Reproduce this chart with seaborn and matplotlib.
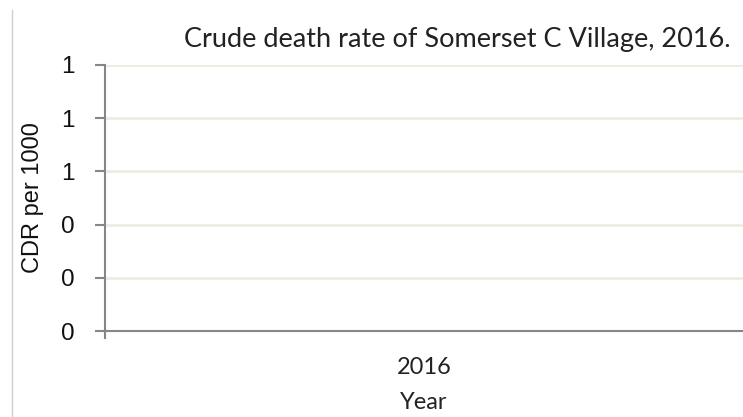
import matplotlib
matplotlib.use("Agg")
import matplotlib.pyplot as plt
from matplotlib.lines import Line2D
from matplotlib.ticker import FormatStrFormatter
import seaborn as sns

# chart data: a single year with a zero crude death rate
years = ["2016"]
cdr_per_1000 = [0.0]
y_ticks = [0.0, 0.2, 0.4, 0.6, 0.8, 1.0]

sns.set_style("white")
plt.rcParams["font.family"] = ["Lato", "DejaVu Sans"]

fig = plt.figure(figsize=(7.43, 4.17), dpi=100)
ax = fig.add_axes([105 / 743, 1 - 331 / 417, 1 - 105 / 743, (331 - 65) / 417])

sns.barplot(x=years, y=cdr_per_1000, color="#4F81BD", ax=ax)

ax.set_ylim(0, 1)
ax.set_yticks(y_ticks)
ax.yaxis.set_major_formatter(FormatStrFormatter("%.0f"))
ax.yaxis.grid(True, color="#EEECE1", linewidth=2)
ax.set_axisbelow(True)

for side in ["top", "right"]:
    ax.spines[side].set_visible(False)
for side in ["left", "bottom"]:
    ax.spines[side].set_color("#868686")
    ax.spines[side].set_linewidth(1.5)
ax.spines["left"].set_bounds(-0.025, 1)

ax.tick_params(axis="y", direction="out", length=7, width=1.5, color="#868686",
               pad=15, labelsize=17.5, labelcolor="#111111", left=True,
               labelfontfamily="Liberation Sans")
ax.tick_params(axis="x", length=0, pad=19, labelsize=17, labelcolor="#222222")

ax.set_ylabel("CDR per 1000", fontsize=17, family="Liberation Sans", color="#111111", labelpad=12)
ax.set_xlabel("Year", fontsize=17, color="#222222", labelpad=10)

fig.text(457 / 743, 1 - 40 / 417, "Crude death rate of Somerset C Village, 2016.",
         ha="center", va="center", fontsize=19.5, color="#222222")

# thin border line on the left edge of the picture
fig.add_artist(Line2D([12 / 743, 12 / 743], [0, 1 - 10 / 417], transform=fig.transFigure,
                      color="#D0D0D0", linewidth=1))

fig.savefig("out.png", dpi=100)
